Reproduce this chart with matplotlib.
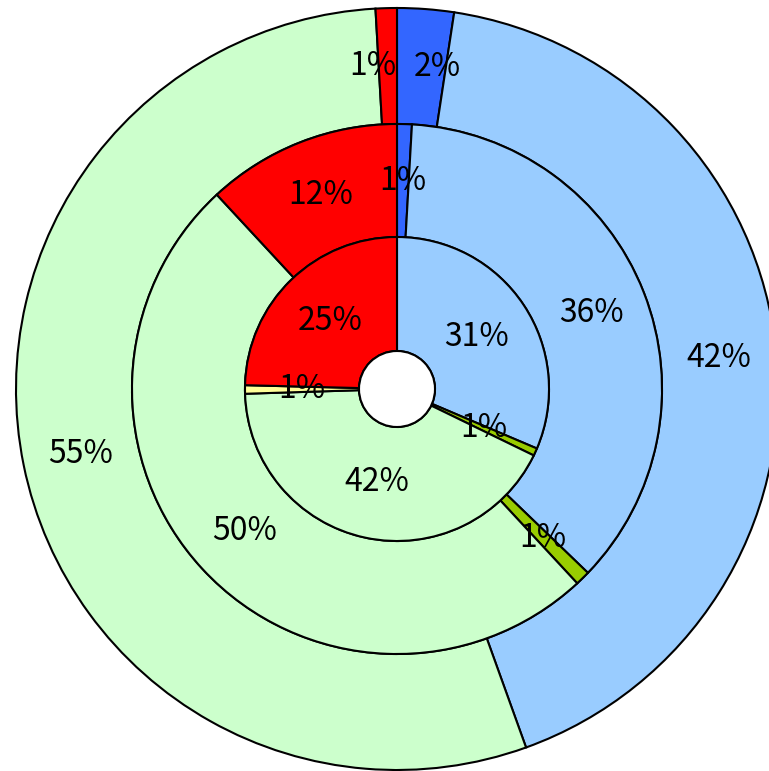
import matplotlib.pyplot as plt

plt.rcParams['font.family'] = ['Liberation Sans Narrow', 'Noto Sans CJK JP', 'DejaVu Sans']

# ring values, clockwise from 12 o'clock (percent)
outer_values = [2.4, 42.1, 54.6, 0.9]
outer_colors = ['#3366FF', '#99CCFF', '#CCFFCC', '#FF0000']

middle_values = [0.9, 36.3, 0.9, 50.0, 11.9]
middle_colors = ['#3366FF', '#99CCFF', '#99CC00', '#CCFFCC', '#FF0000']

inner_values = [31.4, 0.8, 42.3, 0.9, 24.6]
inner_colors = ['#99CCFF', '#99CC00', '#CCFFCC', '#FFFF99', '#FF0000']

R_OUTER = 381
R_MIDDLE = 265
R_INNER = 152
R_HOLE = 38

fig = plt.figure(figsize=(7.69, 7.71), dpi=100)
ax = fig.add_axes([0, 0, 1, 1])

rings = [
    (outer_values, outer_colors, R_OUTER, R_OUTER - R_MIDDLE),
    (middle_values, middle_colors, R_MIDDLE, R_MIDDLE - R_INNER),
    (inner_values, inner_colors, R_INNER, R_INNER - R_HOLE),
]

labels = []
for values, colors, radius, width in rings:
    wedges, texts, autotexts = ax.pie(
        values, colors=colors, radius=radius, startangle=90, counterclock=False,
        autopct='%1.0f%%', pctdistance=(radius - width / 2) / radius,
        wedgeprops=dict(width=width, edgecolor='black', linewidth=1.5),
        textprops=dict(fontsize=23, color='black'),
    )
    labels.append(autotexts)

# push the two tiny outer labels at the top apart so they don't collide
x, y = labels[0][0].get_position()
labels[0][0].set_position((x + 16, y))
x, y = labels[0][3].get_position()
labels[0][3].set_position((x - 15, y))

hole = plt.Circle((0, 0), R_HOLE, facecolor='white', edgecolor='black', linewidth=1.5)
ax.add_patch(hole)

ax.set_xlim(-397, 372)
ax.set_ylim(-382, 389)
ax.set_aspect('equal')
ax.axis('off')

fig.savefig('out.png', dpi=100)
